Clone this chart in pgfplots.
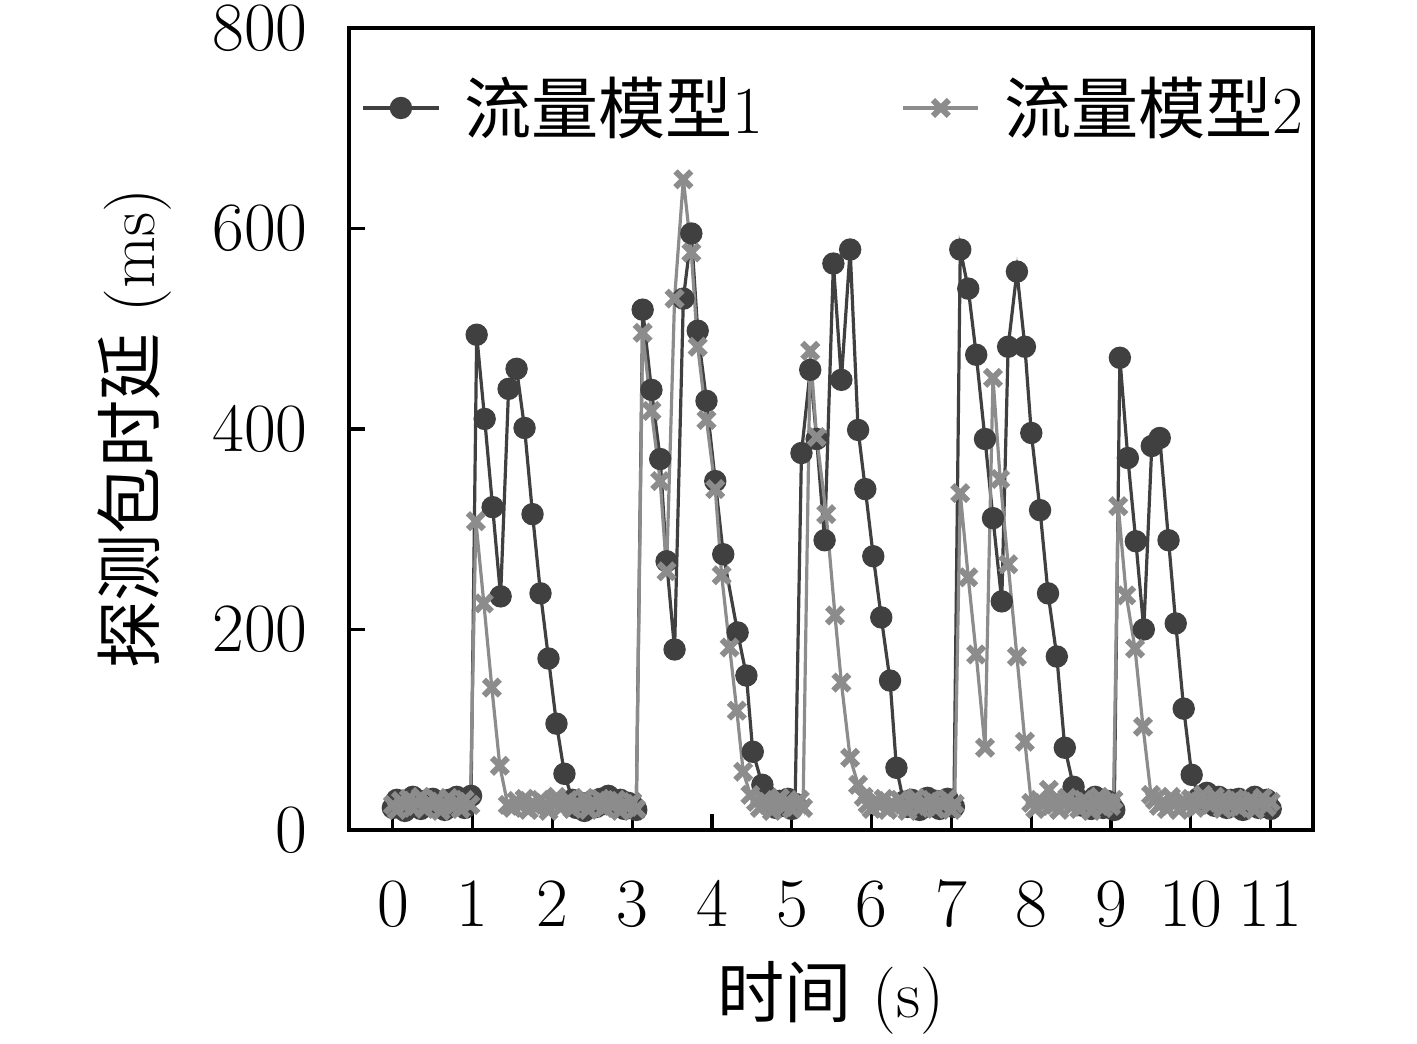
\documentclass[border=0pt]{standalone}
\usepackage{fontspec}
\usepackage{pgfplots}
\pgfplotsset{compat=1.18}
\newfontfamily\cjk{Noto Sans CJK SC}
\definecolor{darkser}{HTML}{404040}
\definecolor{lightser}{HTML}{8C8C8C}
\newcommand{\fs}{\fontsize{16.8}{20}\selectfont}
\begin{document}
\begin{tikzpicture}
\begin{axis}[
  scale only axis,
  width=241pt, height=200.5pt,
  xmin=-0.55, xmax=11.53,
  ymin=0, ymax=800,
  xtick={0,1,...,11},
  ytick={0,200,400,600,800},
  tick align=inside,
  xtick pos=left, ytick pos=left,
  major tick length=4pt,
  axis line style={line width=0.8pt},
  every tick/.style={black, line width=0.8pt},
  tick label style={font=\fs},
  xticklabel style={yshift=-9.5pt},
  yticklabel style={xshift=-6.8pt},
  xlabel={{\cjk 时间} (s)},
  ylabel={{\cjk 探测包时延} (ms)},
  label style={font=\fs},
  x label style={at={(axis description cs:0.5,0)}, anchor=center, yshift=-42pt},
  y label style={at={(axis description cs:-0.222,0.5)}, anchor=center},
  legend style={draw=none, fill=none, font=\fs, at={(axis description cs:0,1)}, anchor=west, yshift=-20pt, xshift=0pt, legend columns=2,
    /tikz/every odd column/.append style={column sep=4pt},
    /tikz/every even column/.append style={column sep=32.5pt}},
  legend image code/.code={\draw[#1, mark=none] (0cm,0cm) -- (0.66cm,0cm); \draw[#1, only marks] plot coordinates {(0.33cm,0cm)};},
]
\addplot[color=darkser, line width=0.8pt, mark=*, mark size=2.6pt, mark options={fill=darkser, draw=darkser, line width=0.4pt}] coordinates {
(0.00,22) (0.05,30) (0.10,26) (0.15,19) (0.20,28) (0.25,33) (0.30,24) (0.35,21) (0.40,29) (0.45,26)
(0.50,31) (0.55,23) (0.60,27) (0.65,20) (0.70,30) (0.75,25) (0.80,33) (0.85,28) (0.90,22) (0.98,34)
(1.05,494) (1.15,410) (1.25,322) (1.35,233) (1.45,440) (1.55,460) (1.65,401) (1.75,315) (1.85,236) (1.95,171) (2.05,106) (2.15,56)
(2.25,30) (2.30,22) (2.35,27) (2.40,19) (2.45,25) (2.50,29) (2.55,23) (2.60,31) (2.65,26) (2.70,34) (2.75,28) (2.80,24) (2.85,30) (2.90,21) (2.95,27) (3.00,25) (3.05,20)
(3.13,519) (3.24,439) (3.35,370) (3.43,268) (3.53,180) (3.64,530) (3.74,595) (3.82,498) (3.93,428) (4.04,348) (4.14,275) (4.32,197) (4.43,154) (4.51,78) (4.63,45)
(4.70,33) (4.75,26) (4.80,22) (4.85,29) (4.90,24) (4.95,31) (5.00,21) (5.04,26)
(5.12,376) (5.23,459) (5.31,390) (5.41,289) (5.52,565) (5.62,449) (5.73,579) (5.83,399) (5.92,340) (6.02,273) (6.12,212) (6.23,149) (6.31,62)
(6.40,28) (6.45,23) (6.50,30) (6.55,25) (6.60,20) (6.65,27) (6.70,32) (6.75,24) (6.80,29) (6.85,21) (6.90,26) (6.95,31) (7.03,23)
(7.11,579) (7.21,540) (7.31,474) (7.42,390) (7.52,311) (7.63,228) (7.71,482) (7.82,557) (7.92,482) (8.00,396) (8.11,319) (8.21,236) (8.32,173) (8.42,82) (8.53,43)
(8.60,30) (8.65,24) (8.70,28) (8.75,21) (8.80,33) (8.85,26) (8.90,22) (8.95,29) (9.00,25) (9.04,20)
(9.11,471) (9.21,371) (9.31,288) (9.41,200) (9.51,383) (9.61,391) (9.72,289) (9.81,206) (9.91,121) (10.01,55)
(10.10,32) (10.15,28) (10.20,37) (10.25,30) (10.30,24) (10.35,33) (10.40,27) (10.45,22) (10.50,30) (10.55,25)
(10.60,31) (10.65,20) (10.70,28) (10.75,24) (10.80,33) (10.85,22) (10.90,27) (10.95,30) (11.00,21)
};
\addlegendentry{{\cjk 流量模型}1}
\addplot[color=lightser, line width=0.8pt, mark=x, mark size=2.8pt, mark options={draw=lightser, line width=1.5pt}] coordinates {
(0.00,25) (0.05,20) (0.10,29) (0.15,24) (0.20,31) (0.25,22) (0.30,27) (0.35,33) (0.40,21) (0.45,28)
(0.50,24) (0.55,30) (0.60,19) (0.65,26) (0.70,32) (0.75,23) (0.80,28) (0.85,21) (0.90,30) (0.97,25)
(1.04,308) (1.14,226) (1.24,142) (1.34,64) (1.44,25)
(1.50,22) (1.55,29) (1.60,24) (1.65,31) (1.70,20) (1.75,27) (1.80,23) (1.85,30) (1.90,25) (1.95,19)
(2.00,28) (2.05,33) (2.10,22) (2.15,26) (2.20,30) (2.25,21) (2.30,27) (2.35,24) (2.40,32) (2.45,20)
(2.50,28) (2.55,25) (2.60,31) (2.65,22) (2.70,29) (2.75,24) (2.80,30) (2.85,19) (2.90,26) (2.95,23) (3.00,28) (3.05,21)
(3.13,496) (3.24,418) (3.35,348) (3.43,258) (3.53,530) (3.64,649) (3.74,576) (3.82,482) (3.93,409) (4.04,340) (4.12,254) (4.22,182) (4.31,119) (4.39,58) (4.48,35)
(4.55,28) (4.60,22) (4.65,30) (4.70,25) (4.75,19) (4.80,27) (4.85,32) (4.90,23) (4.95,28) (5.00,21) (5.05,26) (5.10,30) (5.14,22)
(5.23,478) (5.31,392) (5.43,315) (5.54,214) (5.62,147) (5.73,72) (5.83,45)
(5.90,33) (5.95,26) (6.00,21) (6.05,29) (6.10,24) (6.15,31) (6.20,20) (6.25,27) (6.30,23) (6.35,30)
(6.40,25) (6.45,19) (6.50,28) (6.55,32) (6.60,22) (6.65,27) (6.70,24) (6.75,30) (6.80,21) (6.85,28) (6.90,25) (6.95,31) (7.00,20) (7.04,26)
(7.11,336) (7.21,252) (7.31,175) (7.42,82) (7.52,451) (7.61,350) (7.71,265) (7.82,173) (7.92,88)
(8.00,27) (8.05,21) (8.10,30) (8.15,25) (8.22,40) (8.25,24) (8.30,29) (8.35,20) (8.40,27) (8.45,32)
(8.50,23) (8.55,28) (8.60,21) (8.65,30) (8.70,25) (8.75,19) (8.80,28) (8.85,33) (8.90,22) (8.95,27) (9.00,24) (9.03,30)
(9.09,323) (9.19,234) (9.30,181) (9.40,103) (9.50,35)
(9.55,30) (9.60,24) (9.65,28) (9.70,21) (9.75,33) (9.80,26) (9.85,20) (9.90,29) (9.95,24) (10.00,31)
(10.05,22) (10.10,28) (10.15,35) (10.20,30) (10.25,25) (10.30,33) (10.35,27) (10.40,21) (10.45,29) (10.50,24)
(10.55,31) (10.60,22) (10.65,28) (10.70,25) (10.75,30) (10.80,20) (10.85,27) (10.90,32) (10.95,23) (11.00,28)
};
\addlegendentry{{\cjk 流量模型}2}
\end{axis}
\pgfresetboundingbox
\path ([xshift=-87.25pt,yshift=-53.5pt]current axis.south west) rectangle ([xshift=26pt,yshift=7pt]current axis.north east);
\end{tikzpicture}
\end{document}
